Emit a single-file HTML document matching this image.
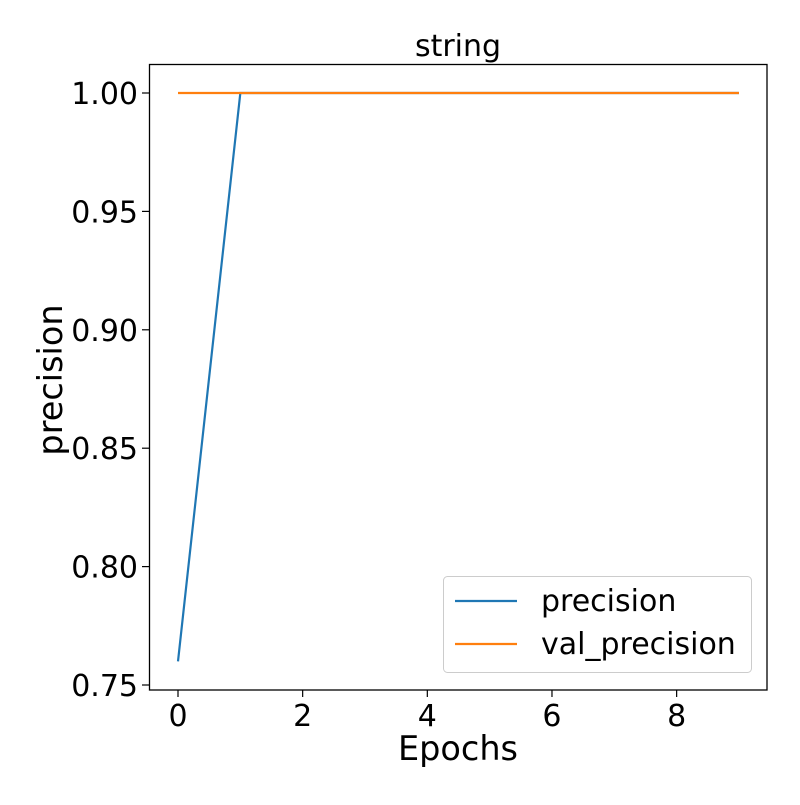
<!DOCTYPE html>
<html><head><style>
body{margin:0;background:#fff}
text{font-family:"DejaVu Sans","Liberation Sans",sans-serif;fill:#000}
</style></head><body>
<svg id="c" width="800" height="800" xmlns="http://www.w3.org/2000/svg">
<rect width="800" height="800" fill="#fff"/>
<text x="458" y="56" font-size="30" text-anchor="middle">string</text>
<g id="ticks"></g>
<g id="lines"></g>
<rect x="149.5" y="64.5" width="617.5" height="625.5" fill="none" stroke="#000" stroke-width="1.3"/>
<text x="458" y="760" font-size="33.5" text-anchor="middle">Epochs</text>
<text transform="translate(62,380) rotate(-90)" font-size="33.5" text-anchor="middle">precision</text>
<g>
<rect x="443.5" y="576.5" width="308" height="96" rx="4" fill="#fff" fill-opacity="0.8" stroke="#ccc"/>
<line x1="455" y1="601" x2="517" y2="601" stroke="#1f77b4" stroke-width="2.2"/>
<text x="541" y="611" font-size="30">precision</text>
<line x1="455" y1="644" x2="517" y2="644" stroke="#ff7f0e" stroke-width="2.2"/>
<text x="541" y="654" font-size="30">val_precision</text>
</g>
</svg>
<script>
const epochs=[0,1,2,3,4,5,6,7,8,9];
const precision=[0.76,1,1,1,1,1,1,1,1,1];
const valPrecision=[1,1,1,1,1,1,1,1,1,1];
const xTicks=[0,2,4,6,8];
const yTicks=[0.75,0.80,0.85,0.90,0.95,1.00];
const X=v=>178+v*62.33;
const Y=v=>93+(1-v)*2368;
const NS="http://www.w3.org/2000/svg";
const tg=document.getElementById('ticks'),lg=document.getElementById('lines');
function mk(tag,attrs,parent){const e=document.createElementNS(NS,tag);for(const k in attrs)e.setAttribute(k,attrs[k]);parent.appendChild(e);return e;}
xTicks.forEach(t=>{
 const l=mk('line',{x1:X(t),x2:X(t),y1:690,y2:697,stroke:'#000','stroke-width':1.2},tg);
 
 
 const s=mk('text',{x:X(t),y:726,'font-size':30,'text-anchor':'middle'},tg);s.textContent=t;
 
 
});
yTicks.forEach(t=>{
 const l=mk('line',{x1:142,x2:149.5,y1:Y(t),y2:Y(t),stroke:'#000','stroke-width':1.2},tg);
 
 
 const s=mk('text',{x:138,y:Y(t)+11,'font-size':30,'text-anchor':'end'},tg);s.textContent=t.toFixed(2);
 
 
});
function series(vals,color,name){
 const p=mk('polyline',{points:vals.map((v,i)=>X(epochs[i])+','+Y(v)).join(' '),fill:'none',stroke:color,'stroke-width':2.2},lg);
 
 
}
series(precision,'#1f77b4','precision-line');
series(valPrecision,'#ff7f0e','val-precision-line');
</script>
</body></html>
